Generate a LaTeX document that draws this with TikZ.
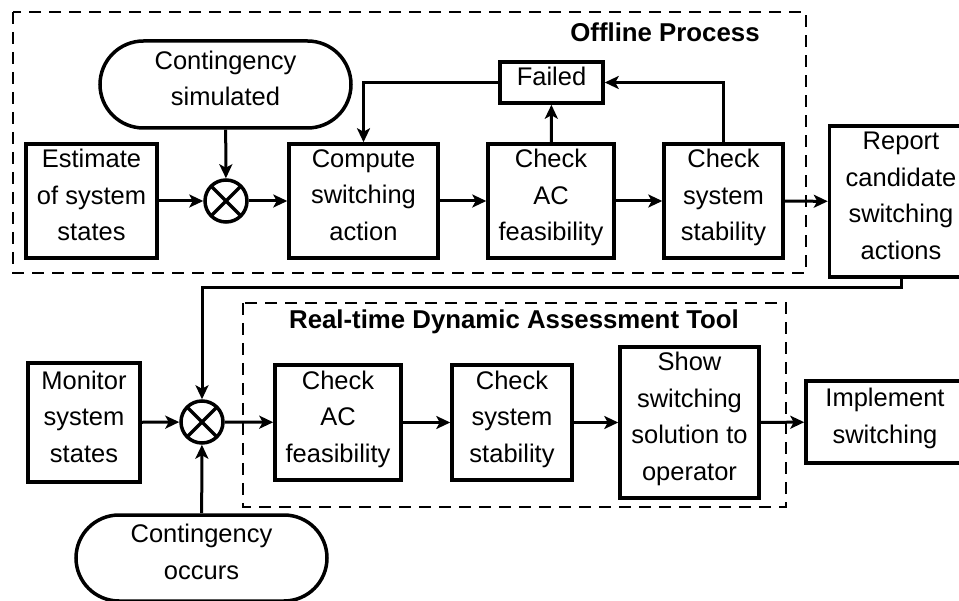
\documentclass[tikz,border=0pt]{standalone}
\usepackage{fontspec}
\setmainfont{Liberation Sans}
\usetikzlibrary{arrows.meta,calc,shapes.misc}

\tikzset{
  every picture/.style={x=1pt,y=-1pt},
  blk/.style={draw,line width=3.5pt,rectangle,inner sep=0pt,align=center,
    text depth=12pt,font=\fontsize{25.5}{36.5}\selectfont},
  term/.style={blk,rounded rectangle},
  mixer/.style={draw,circle,line width=3.5pt,minimum size=42pt,inner sep=0pt,
    path picture={
      \draw[line width=3.5pt] (path picture bounding box.north west) -- (path picture bounding box.south east);
      \draw[line width=3.5pt] (path picture bounding box.north east) -- (path picture bounding box.south west);
    }},
  flow/.style={line width=3pt,-{Stealth[length=14pt,width=13pt,inset=3.5pt]}},
  group/.style={draw,line width=2.5pt,dash pattern=on 12pt off 8pt},
  title/.style={font=\fontsize{25.8}{30}\selectfont\bfseries}
}

\begin{document}
\begin{tikzpicture}
\useasboundingbox (0,0) rectangle (959,601);
\clip (0,0) rectangle (959,601);

% ---- offline process ----
\draw[group] (13,12) rectangle (806,273);
\node[title] (offt) at (665,32) {Offline Process};

\node[term,minimum width=251pt,minimum height=87pt] (csim) at (225.5,84.5)
  {Contingency\\simulated};
\node[blk,minimum width=131pt,minimum height=114pt] (est) at (91.5,201)
  {Estimate\\of system\\states};
\node[mixer] (mx1) at (226,201) {};
\node[blk,minimum width=149pt,minimum height=114pt] (comp) at (363.5,201)
  {Compute\\switching\\action};
\node[blk,minimum width=126pt,minimum height=114pt] (acf) at (551,201)
  {Check\\AC\\feasibility};
\node[blk,minimum width=119pt,minimum height=114pt] (stab) at (723.5,201)
  {Check\\system\\stability};
\node[blk,minimum width=103pt,minimum height=41pt] (fail) at (551.5,82.5)
  {Failed};
\node[blk,minimum width=143pt,minimum height=151pt] (rep) at (901,201.5)
  {Report\\candidate\\switching\\actions};

\draw[flow] (csim) -- (mx1);
\draw[flow] (est) -- (mx1);
\draw[flow] (mx1) -- (comp);
\draw[flow] (comp) -- (acf);
\draw[flow] (acf) -- (stab);
\draw[flow] (stab) -- (rep);
\draw[flow] (acf) -- (fail);
\draw[flow] (stab.north) |- (fail.east);
\draw[flow] (fail.west) -| (comp.north);

% ---- real-time assessment ----
\draw[group] (243,303) rectangle (786,507);
\node[title] (rtt) at (514,322) {Real-time Dynamic Assessment Tool};

\node[blk,minimum width=112pt,minimum height=119pt] (mon) at (84,422.5)
  {Monitor\\system\\states};
\node[mixer] (mx2) at (202,422) {};
\node[term,minimum width=251pt,minimum height=86pt] (cocc) at (201.5,558)
  {Contingency\\occurs};
\node[blk,minimum width=126pt,minimum height=115pt] (acf2) at (338,422.5)
  {Check\\AC\\feasibility};
\node[blk,minimum width=120pt,minimum height=115pt] (stab2) at (512,422.5)
  {Check\\system\\stability};
\node[blk,minimum width=139pt,minimum height=151pt] (show) at (689.5,422.5)
  {Show\\switching\\solution to\\operator};
\node[blk,minimum width=158pt,minimum height=82pt] (impl) at (885,422)
  {Implement\\switching};

\coordinate (turn) at (901,288);
\draw[flow] (rep.south) -- (turn) -| (mx2.north);
\draw[flow] (mon) -- (mx2);
\draw[flow] (cocc) -- (mx2);
\draw[flow] (mx2) -- (acf2);
\draw[flow] (acf2) -- (stab2);
\draw[flow] (stab2) -- (show);
\draw[flow] (show) -- (impl);
\end{tikzpicture}
\end{document}
